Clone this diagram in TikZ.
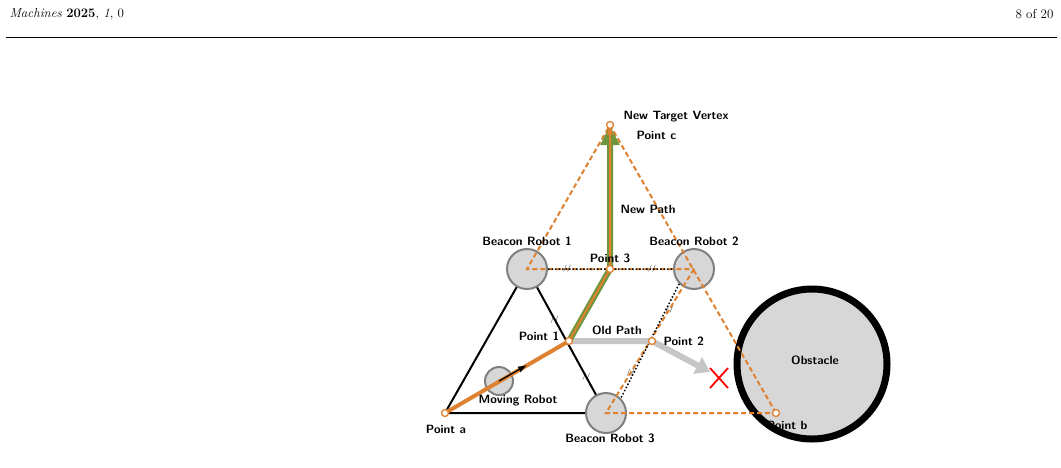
\documentclass[tikz,border=0pt]{standalone}
\usepackage{tikz}
\usetikzlibrary{arrows.meta,calc}
\definecolor{pathorange}{RGB}{222,130,50}
\definecolor{pathgreen}{RGB}{110,150,60}
\definecolor{robotgray}{RGB}{215,215,215}
\tikzset{
  beacon/.style={circle,draw=gray,line width=2pt,fill=robotgray,minimum size=40pt,inner sep=0pt},
  vertex/.style={circle,draw=pathorange,line width=1.3pt,fill=white,minimum size=7pt,inner sep=0pt},
  lbl/.style={font=\sffamily\bfseries\fontsize{12}{13}\selectfont},
  odash/.style={draw=pathorange,dash pattern=on 5pt off 3pt,line width=2pt},
  tick/.style={sloped,font=\scriptsize,inner sep=0pt}
}
\begin{document}
\begin{tikzpicture}[x=1pt,y=-1pt]
\useasboundingbox (0,0) rectangle (1061,467);
\node[anchor=west,font=\fontsize{13}{15}\selectfont] at (6,14) {\textit{Machines} \textbf{2025}, \textit{1}, 0};
\node[anchor=east,font=\fontsize{13}{15}\selectfont] at (1057,14) {8 of 20};
\draw[line width=0.8pt] (6,37) -- (1057,37);
% obstacle
\node[circle,draw=black,line width=7pt,fill=robotgray,minimum size=150pt] (obs) at (812,364) {};
\node[lbl] at (815,360) {Obstacle};
\coordinate (a) at (445,413);
\coordinate (b) at (776,413);
\coordinate (c) at (610,125);
\coordinate (p1) at (569,341);
\coordinate (p2) at (652,341);
\coordinate (p3) at (610,269);
% black triangle
\draw[line width=2pt] (a) -- (527,269) -- (606,413) -- cycle;
% robots
\node[beacon] (b1) at (527,269) {};
\node[beacon] (b2) at (694,269) {};
\node[beacon] (b3) at (606,413) {};
\node[beacon,minimum size=28pt] (mr) at (499,381) {};
\node[tick] at ($(b1.center)!0.35!(b3.center)$) {//};
\node[tick] at ($(b1.center)!0.75!(b3.center)$) {//};
% dashed links
\draw[odash] (b) -- (c) -- (b1.center) -- (b2.center);
\draw[odash] (b2.center) -- (b3.center) -- (b);
\draw[black,dotted,line width=1.5pt] (b1.east) -- (b2.west) (b2.south west) -- (b3.north east);
\node[tick] at (567,269) {//};
\node[tick] at (652,269) {//};
\node[tick] at ($(b2.center)!0.28!(b3.center)$) {//};
\node[tick] at ($(b2.center)!0.72!(b3.center)$) {//};
% old path
\draw[robotgray!80!gray,line width=6pt,-{Triangle[length=14pt,width=18pt]}] (p1) -- (p2) -- (710,372);
\draw[red,line width=1.8pt] (710,368) -- (728,388) (728,368) -- (710,388);
% moving robot heading
\draw[pathorange,line width=4pt] (a) -- (p1);
\draw[-{Latex[length=9pt]},line width=1.3pt] (mr.center) -- (527,365);
% new path
\draw[pathgreen,line width=6pt,-{Triangle[length=20pt,width=18pt]}] (p1) -- (p3) -- (c);
\draw[pathorange,line width=2pt,-{Triangle[length=10pt,width=6pt]}] (p1) -- (p3) -- (c);
% vertices
\foreach \v in {a,b,c,p1,p2,p3} \node[vertex] at (\v) {};
% labels
\node[lbl,anchor=west] at (620,117) {New Target Vertex};
\node[lbl,anchor=west] at (633,135) {Point c};
\node[lbl,anchor=west] at (617,209) {New Path};
\node[lbl] at (527,241) {Beacon Robot 1};
\node[lbl] at (694,241) {Beacon Robot 2};
\node[lbl] at (610,258) {Point 3};
\node[lbl] at (539,336) {Point 1};
\node[lbl] at (617,330) {Old Path};
\node[lbl,anchor=west] at (660,341) {Point 2};
\node[lbl] at (518,401) {Moving Robot};
\node[lbl] at (446,429) {Point a};
\node[lbl] at (610,438) {Beacon Robot 3};
\node[lbl] at (787,425) {Point b};
\end{tikzpicture}
\end{document}
